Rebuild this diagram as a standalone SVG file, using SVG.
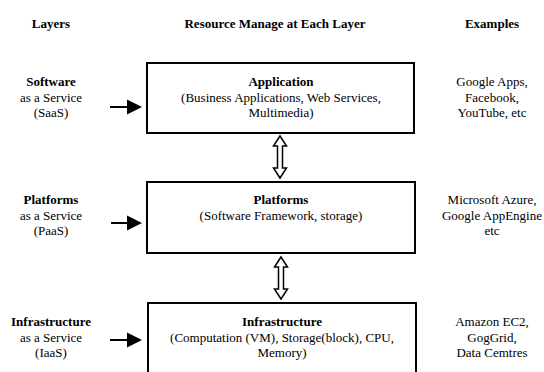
<svg xmlns="http://www.w3.org/2000/svg" width="544" height="372" viewBox="0 0 544 372" font-family="Liberation Serif, DejaVu Serif, serif">
<defs>
<style>
text{font-family:'Liberation Serif','DejaVu Serif',serif;font-size:13px;fill:#000;text-anchor:middle}
.b{font-weight:bold}
.box{fill:#fff;stroke:#000;stroke-width:2}
.arr{stroke:#000;stroke-width:2;fill:none}
.dbl{fill:#fff;stroke:#000;stroke-width:1.5;stroke-linejoin:miter}
</style>
<marker id="head" markerUnits="userSpaceOnUse" markerWidth="16" markerHeight="16" viewBox="0 0 16 16" refX="1" refY="8" orient="auto">
<polygon points="0,0.5 15,8 0,15.5" fill="#000"/>
</marker>
</defs>
<rect width="544" height="372" fill="#fff"/>
<g id="headers">
<text class="b" x="51" y="27.5">Layers</text>
<text class="b" x="275" y="27.5">Resource Manage at Each Layer</text>
<text class="b" x="492" y="27.5">Examples</text>
</g>
<g id="saas-label">
<text class="b" x="51" y="86">Software</text>
<text x="51" y="101.5">as a Service</text>
<text x="51" y="117">(SaaS)</text>
</g>
<g id="paas-label">
<text class="b" x="51" y="204">Platforms</text>
<text x="51" y="219.5">as a Service</text>
<text x="51" y="235">(PaaS)</text>
</g>
<g id="iaas-label">
<text class="b" x="51" y="326">Infrastructure</text>
<text x="51" y="341.5">as a Service</text>
<text x="51" y="357">(IaaS)</text>
</g>
<g id="application">
<rect class="box" x="147" y="63" width="267" height="70"/>
<text class="b" x="281" y="86">Application</text>
<text x="281" y="101.5">(Business Applications, Web Services,</text>
<text x="281" y="117">Multimedia)</text>
</g>
<g id="platforms">
<rect class="box" x="147" y="182" width="268" height="71"/>
<text class="b" x="281" y="204">Platforms</text>
<text x="281" y="219.5">(Software Framework, storage)</text>
</g>
<g id="infrastructure">
<rect class="box" x="148" y="303" width="268" height="80"/>
<text class="b" x="282" y="326">Infrastructure</text>
<text x="282" y="341.5">(Computation (VM), Storage(block), CPU,</text>
<text x="282" y="357">Memory)</text>
</g>
<g id="saas-examples">
<text x="492" y="86">Google Apps,</text>
<text x="492" y="101.5">Facebook,</text>
<text x="492" y="117">YouTube, etc</text>
</g>
<g id="paas-examples">
<text x="492" y="204">Microsoft Azure,</text>
<text x="492" y="219.5">Google AppEngine</text>
<text x="492" y="235">etc</text>
</g>
<g id="iaas-examples">
<text x="492" y="326">Amazon EC2,</text>
<text x="492" y="341.5">GogGrid,</text>
<text x="492" y="357">Data Cemtres</text>
</g>
<g id="connectors">
<line class="arr" x1="110" y1="107" x2="128" y2="107" marker-end="url(#head)"/>
<line class="arr" x1="111" y1="223" x2="128" y2="223" marker-end="url(#head)"/>
<line class="arr" x1="110" y1="340" x2="128" y2="340" marker-end="url(#head)"/>
<polygon class="dbl" points="280,136 286.5,146 282.5,146 282.5,168 286.5,168 280,178 273.5,168 277.5,168 277.5,146 273.5,146"/>
<polygon class="dbl" points="281,257 287.5,267 283.5,267 283.5,289 287.5,289 281,299 274.5,289 278.5,289 278.5,267 274.5,267"/>
</g>
</svg>
